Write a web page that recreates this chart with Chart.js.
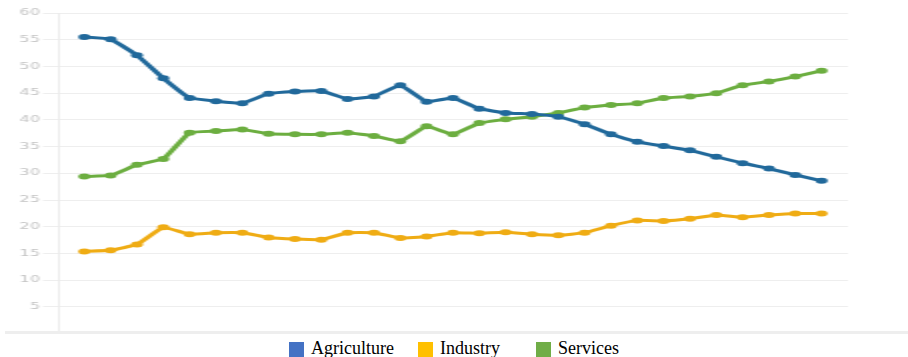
<!DOCTYPE html>
<html>
<head>
<meta charset="utf-8">
<script src="https://cdn.jsdelivr.net/npm/chart.js@4/dist/chart.umd.min.js"></script>
<style>
  html, body { margin: 0; padding: 0; background: #ffffff; }
  body { width: 908px; height: 357px; position: relative; overflow: hidden; }
  #clip { position: absolute; left: 0; top: 0; width: 908px; height: 331px; overflow: hidden; }
  #stretch { position: absolute; left: 0; top: 0; width: 454px; height: 340px; transform: scaleX(2); transform-origin: 0 0; }
  #band { position: absolute; left: 5px; top: 331px; width: 903px; height: 3px; background: #eeeeee; }
  #legend { position: absolute; left: 0; top: 338px; width: 908px; display: flex; justify-content: center;
            font-family: "Liberation Serif", "Times New Roman", serif; font-size: 18px; color: #000; line-height: 20px; }
  .item { display: flex; align-items: center; }
  .item:nth-child(1) { margin-right: 24px; }
  .item:nth-child(2) { margin-right: 36px; }
  .box { width: 15px; height: 15px; margin-right: 7px; margin-top: 3px; }
</style>
</head>
<body>
<div id="clip"><div id="stretch"><canvas id="c" width="454" height="340"></canvas></div></div>
<div id="band"></div>
<div id="legend"></div>
<script>
const years = [1991,1992,1993,1994,1995,1996,1997,1998,1999,2000,2001,2002,2003,2004,2005,2006,2007,2008,2009,2010,2011,2012,2013,2014,2015,2016,2017,2018,2019];
const seriesNames = ["Agriculture", "Industry", "Services"];
const agriculture = [55.5,55.1,52.1,47.8,44.1,43.5,43.1,44.9,45.3,45.4,43.9,44.4,46.5,43.4,44.1,42.1,41.3,41.1,40.6,39.2,37.3,35.9,35.1,34.3,33.1,31.9,30.9,29.7,28.6];
const industry = [15.4,15.6,16.7,19.9,18.6,18.9,18.9,18.0,17.7,17.6,18.9,18.9,17.9,18.2,18.9,18.8,19.0,18.6,18.4,18.9,20.2,21.2,21.1,21.5,22.2,21.8,22.2,22.5,22.5];
const services = [29.4,29.6,31.6,32.7,37.6,37.9,38.2,37.4,37.3,37.3,37.6,37.0,36.0,38.8,37.3,39.4,40.1,40.6,41.3,42.3,42.8,43.1,44.1,44.4,45.0,46.5,47.2,48.1,49.2];
const yTicks = [5,10,15,20,25,30,35,40,45,50,55,60];

const lineColors = ["#21699b", "#efac14", "#6cae40"];
const legendColors = ["#4472C4", "#FFC000", "#70AD47"];
const seriesValues = [agriculture, industry, services];

const datasets = seriesNames.map((name, i) => ({
  label: name,
  data: years.map((yr, j) => ({ x: yr, y: seriesValues[i][j] })),
  borderColor: lineColors[i],
  backgroundColor: lineColors[i],
  pointBackgroundColor: lineColors[i],
  pointBorderColor: lineColors[i],
  borderWidth: 3,
  pointRadius: 3,
  pointBorderWidth: 0,
  tension: 0.1,
  fill: false
}));

new Chart(document.getElementById('c'), {
  type: 'line',
  data: { datasets },
  options: {
    responsive: false,
    maintainAspectRatio: false,
    devicePixelRatio: 1,
    animation: false,
    layout: { padding: { left: 0, right: 30, top: 13, bottom: 5 } },
    plugins: { legend: { display: false }, tooltip: { enabled: false }, title: { display: false } },
    scales: {
      x: {
        type: 'linear',
        display: false,
        min: years[0] - 1,
        max: years[years.length - 1] + 1
      },
      y: {
        min: 0,
        max: yTicks[yTicks.length - 1],
        afterFit: (s) => { s.width = 29; },
        afterBuildTicks: (s) => { s.ticks = [0].concat(yTicks).map(v => ({ value: v })); },
        ticks: {
          stepSize: 5,
          padding: 1.5,
          color: '#c4c4c4',
          font: { family: 'DejaVu Sans', size: 8 },
          callback: (v) => (v === 0 ? '' : String(v))
        },
        grid: {
          color: (ctx) => (ctx.tick && ctx.tick.value === 0 ? 'rgba(0,0,0,0)' : '#eeeeee'),
          lineWidth: 1,
          tickLength: 7.5,
          drawTicks: true
        },
        border: { display: true, color: '#ececec', width: 1 }
      }
    }
  }
});

const legend = document.getElementById('legend');
seriesNames.forEach((name, i) => {
  const item = document.createElement('div');
  item.className = 'item';
  const box = document.createElement('span');
  box.className = 'box';
  box.style.background = legendColors[i];
  const txt = document.createElement('span');
  txt.textContent = name;
  item.appendChild(box);
  item.appendChild(txt);
  legend.appendChild(item);
});
</script>
</body>
</html>
